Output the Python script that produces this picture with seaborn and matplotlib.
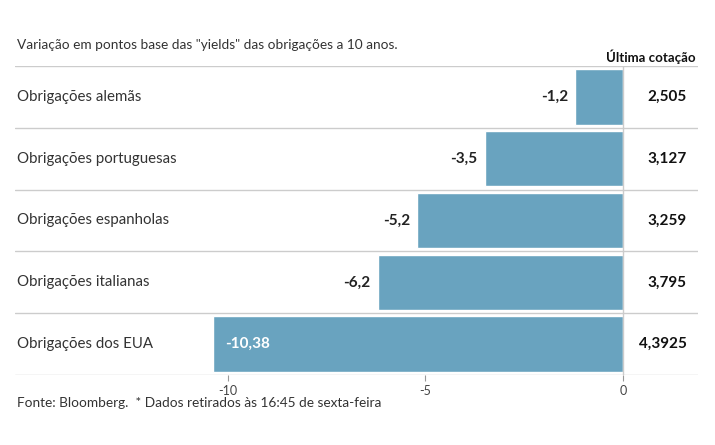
import seaborn as sns
import matplotlib.pyplot as plt
import pandas as pd

categorias = ["Obrigações alemãs", "Obrigações portuguesas", "Obrigações espanholas",
              "Obrigações italianas", "Obrigações dos EUA"]
variacao = [-1.2, -3.5, -5.2, -6.2, -10.38]
rotulos_var = ["-1,2", "-3,5", "-5,2", "-6,2", "-10,38"]
ultima_cotacao = ["2,505", "3,127", "3,259", "3,795", "4,3925"]
ticks_x = [-10, -5, 0]

cor_barra = "#69a3bf"
cor_linha = "#cccccc"

sns.set_theme(style="white")
plt.rcParams['font.family'] = ['Lato', 'DejaVu Sans']

df = pd.DataFrame({"cat": categorias, "var": variacao})

fig = plt.figure(figsize=(7.15, 4.45), dpi=100)
ax = fig.add_axes([0.021, 0.157, 0.955, 0.695])
sns.barplot(data=df, y="cat", x="var", orient="h", color=cor_barra, width=0.9,
            saturation=1, ax=ax)

ax.set_xlim(-15.39, 1.90)
ax.set_ylim(len(categorias) - 0.5, -0.5)

# linhas de separação entre as linhas
for i in range(len(categorias) + 1):
    ax.axhline(i - 0.5, color=cor_linha, lw=1, zorder=0)
ax.axvline(0, color=cor_linha, lw=1, zorder=3)

for s in ax.spines.values():
    s.set_visible(False)

ax.set_yticks([])
ax.set_ylabel("")
ax.set_xlabel("")
ax.set_xticks(ticks_x)
ax.set_xticklabels([str(t) for t in ticks_x], fontsize=9, color="#444444")
ax.tick_params(axis="x", length=4, width=0.8, color="#999999", pad=3, bottom=True)

for i, (cat, v, lab, q) in enumerate(zip(categorias, variacao, rotulos_var, ultima_cotacao)):
    ax.text(-15.33, i, cat, ha="left", va="center", fontsize=10.8, color="#333333")
    if v < -8:
        ax.text(v + 0.3, i, lab, ha="left", va="center", fontsize=11,
                fontweight="bold", color="white")
    else:
        ax.text(v - 0.18, i, lab, ha="right", va="center", fontsize=11,
                fontweight="bold", color="#222222")
    ax.text(1.62, i, q, ha="right", va="center", fontsize=11,
            fontweight="bold", color="#111111")

fig.text(0.024, 0.898, 'Variação em pontos base das "yields" das obrigações a 10 anos.',
         fontsize=9.8, color="#333333", ha="left", va="center")
fig.text(0.973, 0.872, "Última cotação", fontsize=9.5, fontweight="bold",
         color="#111111", ha="right", va="center")
fig.text(0.024, 0.094, "Fonte: Bloomberg.  * Dados retirados às 16:45 de sexta-feira",
         fontsize=9.8, color="#333333", ha="left", va="center")

fig.savefig("out.png", dpi=100)
